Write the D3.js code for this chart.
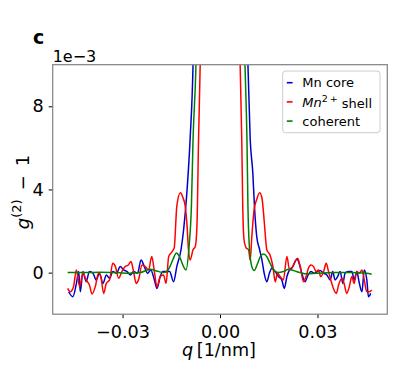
<!DOCTYPE html>
<html>
<head>
<meta charset="utf-8">
<script src="https://cdn.jsdelivr.net/npm/d3@7"></script>
<style>
  body { margin: 0; background: #fff; }
  svg { display: block; font-family: "DejaVu Sans", sans-serif; }
</style>
</head>
<body>
<svg id="chart" width="394" height="371"></svg>
<script>
// values are g2-1 in units of 1e-3, q in 1/nm
const qCore = [-0.0466,-0.0453,-0.0442,-0.0435,-0.0430,-0.0422,-0.0412,-0.0402,-0.0391,-0.0381,-0.0371,-0.0360,-0.0350,-0.0340,-0.0330,-0.0319,-0.0307,-0.0297,-0.0286,-0.0276,-0.0266,-0.0254,-0.0243,-0.0233,-0.0223,-0.0213,-0.0202,-0.0194,-0.0184,-0.0176,-0.0166,-0.0155,-0.0143,-0.0133,-0.0120,-0.0112,-0.0102,-0.0092,-0.0083,-0.0070,0,
  0.0070,0.0086,0.0093,0.0101,0.0106,0.0113,0.0122,0.0129,0.0136,0.0144,0.0152,0.0160,0.0170,0.0180,0.0190,0.0198,0.0206,0.0214,0.0224,0.0237,0.0245,0.0252,0.0262,0.0269,0.0280,0.0290,0.0300,0.0308,0.0319,0.0329,0.0339,0.0347,0.0354,0.0362,0.0370,0.0378,0.0385,0.0395,0.0406,0.0413,0.0421,0.0429,0.0437,0.0444,0.0452,0.0457,0.0464]
const gCore = [-0.92,-1.16,-0.52,0.05,-0.92,0.05,-0.44,0.05,-0.03,-0.35,-0.03,-0.52,-0.11,-0.27,0.05,-0.03,0.29,0.13,0.05,-0.11,0.05,-0.03,0.61,0.29,-0.03,0.13,-0.35,-0.76,-0.19,0.05,0.05,0.05,-0.44,0.29,1.10,2.06,3.84,6.42,10.0,25,60,
  25,10,6.4,4.8,3.2,1.74,1.10,0.61,-0.03,-0.44,-0.03,0.21,0.05,-0.19,-0.35,-0.76,-0.19,0.13,0.29,0.65,0.37,-0.03,-0.44,-0.19,0.05,-0.03,0.05,0.10,-0.03,-0.11,-0.35,0.05,-0.35,-0.19,0.05,-0.52,-0.03,0.05,0.05,-0.35,0.05,-0.52,-0.92,0.13,-0.35,-1.16,-1.0]

const qShell = [-0.0469,-0.0461,-0.0451,-0.0442,-0.0432,-0.0422,-0.0412,-0.0402,-0.0394,-0.0384,-0.0374,-0.0367,-0.0358,-0.0350,-0.0340,-0.0330,-0.0322,-0.0312,-0.0302,-0.0292,-0.0282,-0.0274,-0.0266,-0.0258,-0.0251,-0.0240,-0.0230,-0.0220,-0.0210,-0.0202,-0.0194,-0.0184,-0.0174,-0.0166,-0.0158,-0.0151,-0.0141,-0.0133,-0.0122,-0.0114,-0.0107,-0.0102,-0.0097,-0.0092,-0.0083,-0.0076,-0.0071,-0.0066,-0.0061,-0.0050,0,
  0.0050,0.0062,0.0067,0.0070,0.0074,0.0081,0.0088,0.0093,0.0098,0.0105,0.0113,0.0122,0.0129,0.0134,0.0139,0.0144,0.0154,0.0163,0.0170,0.0177,0.0185,0.0195,0.0206,0.0214,0.0221,0.0231,0.0239,0.0247,0.0257,0.0265,0.0272,0.0280,0.0288,0.0296,0.0303,0.0310,0.0319,0.0327,0.0334,0.0341,0.0349,0.0358,0.0365,0.0375,0.0382,0.0390,0.0398,0.0406,0.0413,0.0421,0.0429,0.0437,0.0444,0.0452,0.0460,0.0467]
const gShell = [-0.76,-0.92,-0.68,0.13,-0.68,-0.03,-0.35,-0.6,-1.03,-0.68,-0.03,-0.19,-1.0,-0.52,-0.35,0.45,0.29,-0.27,0.05,0.29,0.37,0.53,0.05,-0.52,-0.35,0.37,0.29,0.13,0.77,0.05,-0.68,-0.19,-0.11,-0.52,0.77,0.94,1.18,3.19,3.84,3.6,3.19,2.39,1.10,0.61,1.10,1.26,2.23,6.42,10,25,60,
  25,10,6.4,3.2,1.58,1.18,1.10,0.61,1.74,3.03,3.52,3.84,3.6,2.87,1.90,1.10,0.85,0.29,-0.44,-0.03,-0.19,-0.35,0.77,0.13,0.21,0.53,0.69,0.29,-0.44,-0.19,0.21,0.37,0.29,0.05,0.13,-0.19,0.05,0.45,0.05,-0.35,-0.76,-1.0,-0.6,-0.27,-0.52,-1.0,-0.68,-0.19,-0.52,0.05,-0.03,0.13,-0.35,-0.92,-0.92,-0.84]

const qCoh = [-0.0469,-0.0420,-0.0369,-0.0318,-0.0276,-0.0246,-0.0215,-0.0195,-0.0174,-0.0164,-0.0154,-0.0143,-0.0135,-0.0124,-0.0114,-0.0105,-0.0095,-0.0088,-0.0083,-0.0074,-0.0060,0,
  0.0060,0.0077,0.0083,0.0086,0.0091,0.0098,0.0105,0.0116,0.0124,0.0134,0.0144,0.0154,0.0165,0.0180,0.0195,0.0211,0.0226,0.0247,0.0267,0.0298,0.0349,0.0401,0.0452,0.0467]
const gCoh = [0.0,0.0,0.02,0.0,-0.03,0.0,0.16,0.08,0.0,0.05,0.3,0.7,0.94,0.75,0.35,0.13,1.3,3.2,6.4,10,25,60,
  25,10,6.4,3.2,1.10,0.29,0.10,0.45,0.77,0.90,0.77,0.45,0.13,0.0,0.05,0.16,0.10,0.0,-0.06,-0.03,0.0,0.0,-0.03,-0.08]

const seriesNames = ["Mn core", "Mn2+ shell", "coherent"]
const seriesColors = ["#0000cd", "#ff0000", "#008000"]
const xTicks = [-0.03, 0, 0.03]
const yTicks = [0, 4, 8]

const svg = d3.select("#chart")
const mLeft = 52.7, mTop = 64.7, mRight = 387.3, mBottom = 314.2

const x = d3.scaleLinear().domain([-0.0515, 0.0515]).range([mLeft, mRight])
const y = d3.scaleLinear().domain([-2, 10]).range([mBottom, mTop])

svg.append("clipPath").attr("id", "clip")
  .append("rect")
  .attr("x", mLeft).attr("y", mTop)
  .attr("width", mRight - mLeft).attr("height", mBottom - mTop)

const series = [
  {name: seriesNames[0], color: seriesColors[0], pts: qCore.map((q, i) => [q, gCore[i]])},
  {name: seriesNames[1], color: seriesColors[1], pts: qShell.map((q, i) => [q, gShell[i]])},
  {name: seriesNames[2], color: seriesColors[2], pts: qCoh.map((q, i) => [q, gCoh[i]])}
]

const line = d3.line()
  .x(d => x(d[0]))
  .y(d => y(d[1]))
  .curve(d3.curveMonotoneX)

svg.append("g")
  .attr("clip-path", "url(#clip)")
  .selectAll("path")
  .data(series)
  .enter()
  .append("path")
  .attr("d", d => line(d.pts))
  .attr("fill", "none")
  .attr("stroke", d => d.color)
  .attr("stroke-width", 1.5)
  .attr("stroke-linejoin", "round")

// axes
const fmtX = d => d === 0 ? "0.00" : d3.format(".2f")(d).replace("-", "\u2212")
const xAxis = svg.append("g")
  .attr("transform", "translate(0," + mBottom + ")")
  .call(d3.axisBottom(x).tickValues(xTicks).tickFormat(fmtX).tickSize(4).tickPadding(7))
const yAxis = svg.append("g")
  .attr("transform", "translate(" + mLeft + ",0)")
  .call(d3.axisLeft(y).tickValues(yTicks).tickFormat(d3.format("d")).tickSize(4).tickPadding(5))

xAxis.select(".domain").remove()
yAxis.select(".domain").remove()
svg.selectAll(".tick line").attr("stroke", "#000").attr("stroke-width", 1)
svg.selectAll(".tick text")
  .attr("fill", "#000")
  .style("font-family", "DejaVu Sans")
  .style("font-size", "17.6px")

// frame
svg.append("rect")
  .attr("x", mLeft).attr("y", mTop)
  .attr("width", mRight - mLeft).attr("height", mBottom - mTop)
  .attr("fill", "none")
  .attr("stroke", "#808080")
  .attr("stroke-width", 1.2)

// offset text and panel letter
svg.append("text")
  .attr("x", mLeft).attr("y", 62)
  .style("font-size", "16px")
  .text("1e\u22123")

svg.append("text")
  .attr("x", 33).attr("y", 44)
  .style("font-size", "19px")
  .style("font-weight", "bold")
  .text("c")

// axis labels
const xl = svg.append("text")
  .attr("x", 219).attr("y", 356)
  .attr("text-anchor", "middle")
  .style("font-size", "17.6px")
xl.append("tspan").style("font-style", "italic").text("q")
xl.append("tspan").text("\u2009[1/nm]")

const yl = svg.append("text")
  .attr("transform", "translate(29,192) rotate(-90)")
  .attr("text-anchor", "middle")
  .style("font-size", "18px")
yl.append("tspan").style("font-style", "italic").text("g")
yl.append("tspan").attr("dy", -8).style("font-size", "13px").text("(2)")
yl.append("tspan").attr("dy", 8).text("\u2002\u2212\u20021")

// legend
const lg = svg.append("g")
lg.append("rect")
  .attr("x", 282.7).attr("y", 71)
  .attr("width", 97.3).attr("height", 61.7)
  .attr("rx", 3)
  .attr("fill", "#fff").attr("fill-opacity", 0.8)
  .attr("stroke", "#cccccc").attr("stroke-width", 1)

const rows = lg.selectAll("g.row")
  .data(series)
  .enter()
  .append("g")
  .attr("class", "row")
  .attr("transform", (d, i) => "translate(0," + (82.7 + i * 19.2) + ")")

rows.append("line")
  .attr("x1", 286.8).attr("x2", 292.6)
  .attr("stroke", d => d.color)
  .attr("stroke-width", 1.6)

rows.each(function(d, i) {
  const t = d3.select(this).append("text")
    .attr("x", 302.3).attr("y", 0)
    .attr("dy", "0.36em")
    .style("font-size", "13px")
  if (i === 1) {
    t.append("tspan").style("font-style", "italic").text("Mn")
    t.append("tspan").attr("dy", "-0.45em").style("font-size", "9.5px").text("2\u2009+")
    t.append("tspan").attr("dy", "0.45em").text(" shell")
  } else {
    t.text(d.name)
  }
})
</script>
</body>
</html>
